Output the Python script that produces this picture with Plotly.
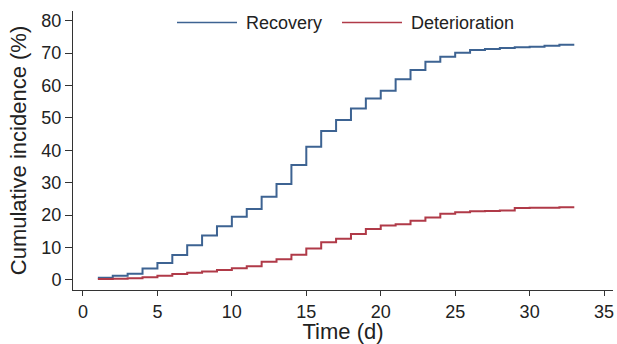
import plotly.graph_objects as go

days = list(range(1, 34))
recovery = [0.7, 1.3, 1.9, 3.5, 5.2, 7.7, 10.7, 13.7, 16.6, 19.5, 21.9, 25.7, 29.6,
            35.5, 41.1, 46.0, 49.4, 52.9, 56.0, 58.4, 61.9, 64.8, 67.3, 68.9, 70.1,
            71.0, 71.3, 71.6, 71.8, 72.0, 72.3, 72.6, 72.6]
deterioration = [0.3, 0.4, 0.5, 0.8, 1.3, 1.8, 2.2, 2.6, 3.1, 3.6, 4.2, 5.6, 6.4,
                 7.8, 9.7, 11.6, 12.7, 14.2, 15.7, 16.8, 17.2, 18.3, 19.3, 20.4,
                 20.9, 21.2, 21.3, 21.4, 22.2, 22.3, 22.3, 22.4, 22.4]
series_names = ["Recovery", "Deterioration"]
series_colors = ["#3d6392", "#b03a48"]
x_ticks = [0, 5, 10, 15, 20, 25, 30, 35]
y_ticks = [0, 10, 20, 30, 40, 50, 60, 70, 80]

FONT = "Liberation Sans, Arial, sans-serif"

fig = go.Figure()
for name, vals, col in zip(series_names, [recovery, deterioration], series_colors):
    fig.add_trace(go.Scatter(x=days, y=vals, mode="lines", name=name,
                             line=dict(color=col, width=2, shape="hv"),
                             showlegend=False))

# Legend drawn manually to match the long sample lines
L, R, T, B = 73, 613, 11, 290
W, H = R - L, B - T
def px(x):
    return (x - L) / W
def py(y):
    return (B - y) / H

legend_items = [(177, 237, 244), (342, 402, 409)]
annotations = []
shapes = []
for (x0, x1, xt), name, col in zip(legend_items, series_names, series_colors):
    shapes.append(dict(type="line", xref="paper", yref="paper",
                       x0=px(x0), x1=px(x1), y0=py(22.5), y1=py(22.5),
                       line=dict(color=col, width=1.5)))
    annotations.append(dict(text=name, xref="paper", yref="paper",
                            x=px(xt), y=py(22.5), xanchor="left", yanchor="middle",
                            showarrow=False, font=dict(size=18, color="#222222", family=FONT)))

fig.update_layout(
    width=617, height=344,
    margin=dict(l=L, r=617 - R, t=T, b=344 - B, autoexpand=False),
    paper_bgcolor="white", plot_bgcolor="white",
    font=dict(family=FONT, size=18, color="#222222"),
    shapes=shapes, annotations=annotations,
    xaxis=dict(range=[-0.67, 35.6], tickvals=x_ticks, showgrid=False, zeroline=False,
               showline=True, linecolor="#333333", linewidth=1, automargin=False,
               ticks="outside", ticklen=5, tickcolor="#333333",
               title=dict(text="Time (d)", standoff=8)),
    yaxis=dict(range=[-3.1, 83], tickvals=y_ticks, showgrid=False, zeroline=False,
               showline=True, linecolor="#333333", linewidth=1, automargin=False,
               ticks="outside", ticklen=7, tickcolor="#333333",
               title=dict(text="Cumulative incidence (%)", standoff=8)),
)
fig.write_html("out.html", config={"displayModeBar": False},
               post_script="document.body.style.margin='0px';document.body.style.overflow='hidden';")
